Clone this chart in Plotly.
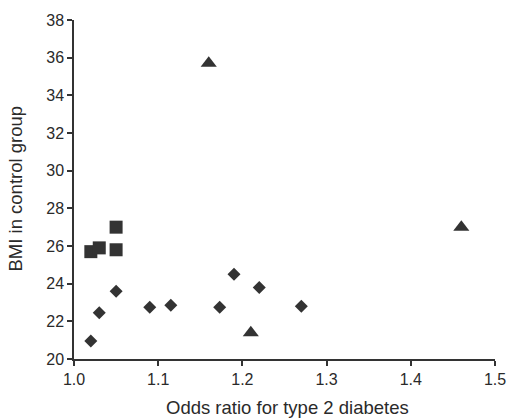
import plotly.graph_objects as go

# Odds ratio for type 2 diabetes vs. BMI in control group, by study group
diamond_or = [1.02, 1.03, 1.05, 1.09, 1.115, 1.173, 1.19, 1.22, 1.27]
diamond_bmi = [20.95, 22.45, 23.6, 22.75, 22.85, 22.75, 24.5, 23.8, 22.8]

square_or = [1.02, 1.03, 1.05, 1.05]
square_bmi = [25.7, 25.9, 27.0, 25.8]

triangle_or = [1.16, 1.21, 1.46]
triangle_bmi = [35.7, 21.4, 27.0]

x_ticks = [1.0, 1.1, 1.2, 1.3, 1.4, 1.5]
y_ticks = [20, 22, 24, 26, 28, 30, 32, 34, 36, 38]

x_title = "Odds ratio for type 2 diabetes"
y_title = "BMI in control group"

mark_color = "#333333"
axis_color = "#333333"
text_color = "#2a2a2a"
font_family = "Liberation Sans, Arial, sans-serif"

fig = go.Figure()
fig.add_trace(go.Scatter(
    x=diamond_or, y=diamond_bmi, mode="markers",
    marker=dict(symbol="diamond", size=10, color=mark_color, line=dict(width=0)),
))
fig.add_trace(go.Scatter(
    x=square_or, y=square_bmi, mode="markers",
    marker=dict(symbol="square", size=13, color=mark_color, line=dict(width=0)),
))
fig.add_trace(go.Scatter(
    x=triangle_or, y=triangle_bmi, mode="markers",
    marker=dict(symbol="triangle-up", size=14, color=mark_color, line=dict(width=0)),
))

axis_common = dict(
    showgrid=False, zeroline=False, showline=True, linecolor=axis_color, linewidth=1.5,
    ticks="outside", ticklen=5, tickwidth=1.5, tickcolor=axis_color,
    tickfont=dict(family=font_family, size=16, color=text_color),
    automargin=False, mirror=False,
)

fig.update_layout(
    width=509, height=420,
    margin=dict(l=74, r=14, t=20, b=61),
    paper_bgcolor="white", plot_bgcolor="white",
    showlegend=False,
    font=dict(family=font_family, size=16, color=text_color),
    xaxis=dict(range=[1.0, 1.5], tickvals=x_ticks,
               ticktext=[f"{v:.1f}" for v in x_ticks], **axis_common),
    yaxis=dict(range=[20, 38], tickvals=y_ticks,
               ticktext=[str(v) for v in y_ticks], **axis_common),
    annotations=[
        dict(text=x_title, xref="paper", yref="paper", x=0.5, y=0,
             xanchor="center", yanchor="middle", xshift=3, yshift=-48,
             showarrow=False, font=dict(family=font_family, size=18.5, color=text_color)),
        dict(text=y_title, xref="paper", yref="paper", x=0, y=0.5,
             xanchor="center", yanchor="middle", xshift=-59, yshift=1, textangle=-90,
             showarrow=False, font=dict(family=font_family, size=18.5, color=text_color)),
    ],
)

fig.write_html("out.html")
